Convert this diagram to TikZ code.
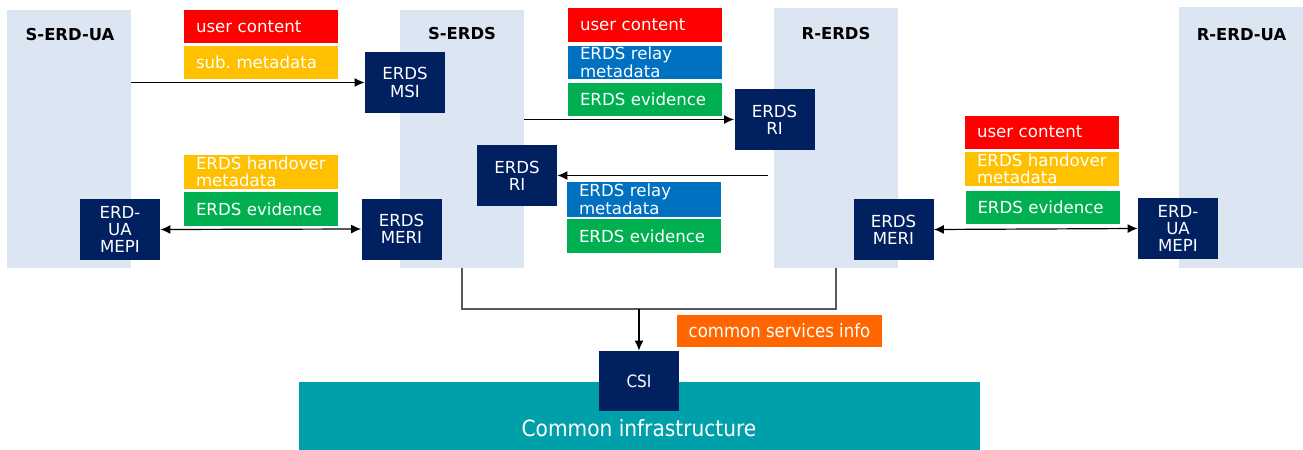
\documentclass[tikz,border=0pt]{standalone}
\usepackage{fontspec}
\setmainfont{DejaVu Sans}
\newfontfamily\condfont{DejaVu Sans Condensed}
\usetikzlibrary{arrows.meta}
\frenchspacing
\definecolor{lanec}{HTML}{DCE6F2}
\definecolor{navyc}{HTML}{002060}
\definecolor{redc}{HTML}{FF0000}
\definecolor{yellowc}{HTML}{FFC000}
\definecolor{greenc}{HTML}{00B050}
\definecolor{bluec}{HTML}{0070C0}
\definecolor{orangec}{HTML}{FF6600}
\definecolor{tealc}{HTML}{00A0AA}
\definecolor{linec}{HTML}{595959}
\tikzset{
  lanebox/.style={fill=lanec, draw=none, inner sep=0, minimum width=62pt},
  titletext/.style={font=\bfseries\fontsize{8.2}{9}\selectfont, inner sep=0},
  nav/.style={fill=navyc, text=white, minimum width=40pt, minimum height=30.5pt,
    inner sep=0, align=center, font=\fontsize{8.3}{8.6}\selectfont},
  lbl/.style={text=white, minimum width=77pt, minimum height=16.5pt, inner xsep=6pt,
    inner ysep=0, text width=65pt, align=left, font=\fontsize{8.3}{8.7}\selectfont},
  arr/.style={-{Latex[length=5pt,width=4.5pt]}, line width=0.6pt, draw=black},
  darr/.style={{Latex[length=5pt,width=4.5pt]}-{Latex[length=5pt,width=4.5pt]}, line width=0.6pt, draw=black},
  bracket/.style={draw=linec, line width=0.6pt},
}
\begin{document}
\begin{tikzpicture}[x=0.5pt,y=-0.5pt]
\useasboundingbox (0,0) rectangle (1303,450);
% lanes
\node[lanebox, minimum height=129pt] (serdua) at (69,139) {};
\node[lanebox, minimum height=129pt] (serds) at (462,139) {};
\node[lanebox, minimum height=130pt] (rerds) at (836,138) {};
\node[lanebox, minimum width=62pt, minimum height=130.5pt] (rerdua) at (1241,137.5) {};
\node[titletext] (t1) at (70,35) {S-ERD-UA};
\node[titletext] (t2) at (462,34) {S-ERDS};
\node[titletext] (t3) at (836,34) {R-ERDS};
\node[titletext] (t4) at (1241.5,35) {R-ERD-UA};
% common infrastructure
\node[fill=tealc, inner sep=0, minimum width=340.5pt, minimum height=34.5pt] (ci) at (639.5,416) {};
\node[text=white, font=\condfont\fontsize{11.2}{12}\selectfont, inner sep=0] (citext) at (639,428) {Common infrastructure};
% nav boxes
\node[nav] (msi) at (405,82.5) {ERDS\\MSI};
\node[nav] (mepil) at (120,229.5) {ERD-\\UA\\MEPI};
\node[nav] (meris) at (401.5,229) {ERDS\\MERI};
\node[nav] (sri) at (517,175.5) {ERDS\\RI};
\node[nav] (rri) at (774.5,119.5) {ERDS\\RI};
\node[nav] (merir) at (893.5,229.5) {ERDS\\MERI};
\node[nav] (mepir) at (1178,228.5) {ERD-\\UA\\MEPI};
\node[nav, minimum height=30pt, font=\condfont\fontsize{8.5}{9}\selectfont] (csi) at (639,381) {CSI};
% label groups
\node[lbl, fill=redc] (g1a) at (261,26.5) {user content};
\node[lbl, fill=yellowc] (g1b) at (261,62.5) {sub. metadata};
\node[lbl, fill=yellowc, minimum height=17pt] (g2a) at (261,172) {ERDS handover\\metadata};
\node[lbl, fill=greenc, minimum height=17pt] (g2b) at (261,209) {ERDS evidence};
\node[lbl, fill=redc, minimum height=17pt] (g3a) at (645,25) {user content};
\node[lbl, fill=bluec] (g3b) at (645,62.5) {ERDS relay\\metadata};
\node[lbl, fill=greenc] (g3c) at (645,99.5) {ERDS evidence};
\node[lbl, fill=bluec, minimum height=17.5pt] (g4a) at (644,199.5) {ERDS relay\\metadata};
\node[lbl, fill=greenc, minimum height=17pt] (g4b) at (644,236) {ERDS evidence};
\node[lbl, fill=redc] (g5a) at (1042,132) {user content};
\node[lbl, fill=yellowc, minimum height=17pt] (g5b) at (1042,169) {ERDS handover\\metadata};
\node[lbl, fill=greenc] (g5c) at (1042.5,207.5) {ERDS evidence};
\node[text=white, fill=orangec, inner sep=0, minimum width=102.5pt, minimum height=16pt,
  font=\condfont\fontsize{9.2}{10}\selectfont] (csinfo) at (779.5,331) {common services info};
% connectors
\draw[arr] (msi.west -| serdua.east) -- (msi.west);
\draw[arr] (rri.west -| serds.east) -- (rri.west);
\draw[arr] ([xshift=-3pt]sri.east -| rerds.west) -- (sri.east);
\draw[darr] (mepil.east) -- (meris.west);
\draw[darr] (merir.east) -- (mepir.west);
\coordinate (j) at (639,309);
\draw[bracket] (serds.south) |- (j) -| (rerds.south);
\draw[arr] (j) -- (csi.north);
\end{tikzpicture}
\end{document}
